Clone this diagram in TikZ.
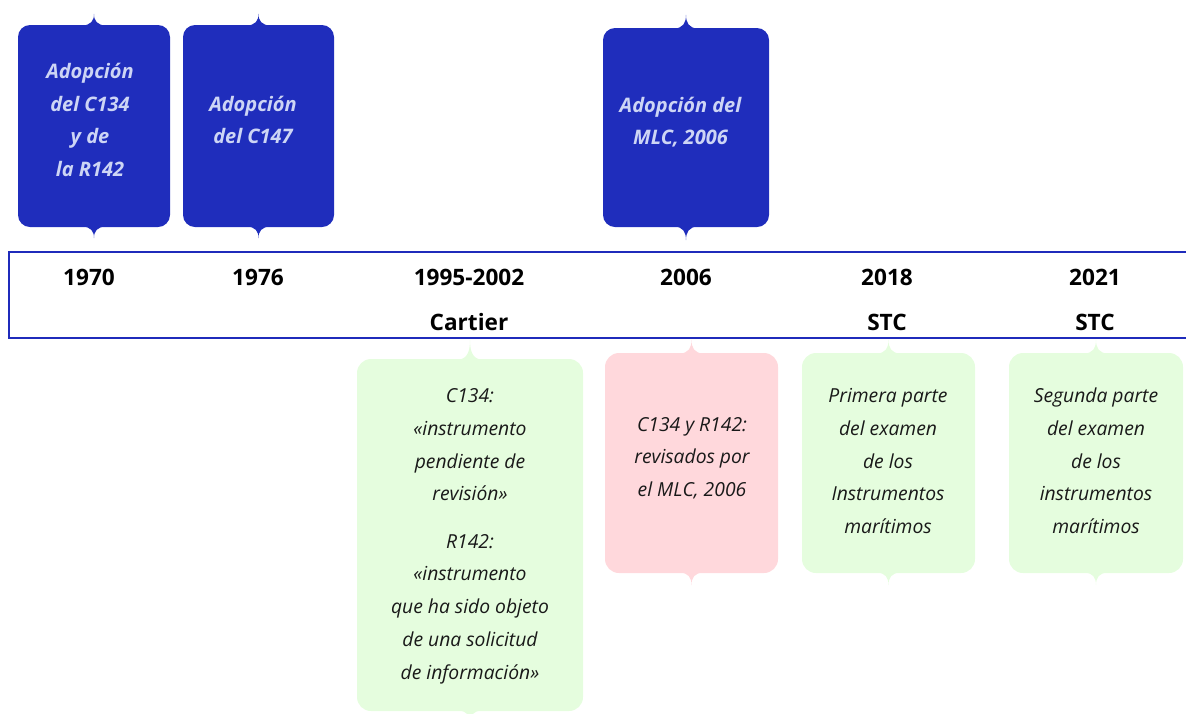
\documentclass[tikz,border=0pt]{standalone}
\usepackage{fontspec}
\setmainfont{Open Sans}
\usetikzlibrary{calc}
\definecolor{boxblue}{RGB}{31,45,188}
\definecolor{lineblue}{RGB}{31,43,187}
\definecolor{lav}{RGB}{205,213,245}
\definecolor{pgreen}{RGB}{229,253,222}
\definecolor{ppink}{RGB}{255,216,220}
\newcommand\tiptop[3]{\fill[#2] ($(#1.north)+(-12,1)$) .. controls ($(#1.north)+(-3,0)$) and ($(#1.north)+(0,-#3*0.35)$) .. ($(#1.north)+(0,-#3)$) .. controls ($(#1.north)+(0,-#3*0.35)$) and ($(#1.north)+(3,0)$) .. ($(#1.north)+(12,1)$) -- cycle;}
\newcommand\tipbot[3]{\fill[#2] ($(#1.south)+(-12,-1)$) .. controls ($(#1.south)+(-3,0)$) and ($(#1.south)+(0,#3*0.35)$) .. ($(#1.south)+(0,#3)$) .. controls ($(#1.south)+(0,#3*0.35)$) and ($(#1.south)+(3,0)$) .. ($(#1.south)+(12,-1)$) -- cycle;}
\tikzset{
  bluebox/.style={fill=boxblue, rounded corners=12pt, inner sep=0pt, draw=none},
  lowbox/.style={rounded corners=14pt, inner sep=0pt, draw=none},
  bluetext/.style={text=lav, font=\fontsize{20}{32.5}\selectfont\bfseries\itshape, align=center, inner sep=0pt},
  lowtext/.style={text=black!90, font=\fontsize{19.3}{32.7}\selectfont\itshape, align=center, inner sep=0pt},
  yeartext/.style={text=black, font=\fontsize{22.6}{24}\selectfont\bfseries, inner sep=0pt},
}
\begin{document}
\begin{tikzpicture}[x=1pt,y=-1pt]
\useasboundingbox (0,0) rectangle (1186,713);
% upper blue boxes
\node[bluebox, minimum width=152, minimum height=202] (b1970) at (94,126) {};
\node[bluebox, minimum width=151, minimum height=202] (b1976) at (258.5,126) {};
\node[bluebox, minimum width=166, minimum height=199] (b2006) at (686,127.5) {};
\tiptop{b1970}{boxblue}{11} \tipbot{b1970}{boxblue}{11}
\tiptop{b1976}{boxblue}{11} \tipbot{b1976}{boxblue}{11}
\tiptop{b2006}{boxblue}{13} \tipbot{b2006}{boxblue}{13}
\node[bluetext] (t1970) at (90,120) {Adopción\\del C134\\y de\\la R142};
\node[bluetext] (t1976) at (253,120) {Adopción\\del C147};
\node[bluetext] (t2006) at (680.5,122) {Adopción del\\MLC, 2006};
% band
\draw[lineblue, line width=2pt] (1190,252) -- (9,252) -- (9,338) -- (1190,338);
\coordinate (band) at (600,295);
% years
\node[yeartext] (y1970) at (89,277) {1970};
\node[yeartext] (y1976) at (258,277) {1976};
\node[yeartext] (y1995) at (469,277) {1995-2002};
\node[yeartext] (y2006) at (686,277) {2006};
\node[yeartext] (y2018) at (887,277) {2018};
\node[yeartext] (y2021) at (1095,277) {2021};
\node[yeartext] (l1995) at (469,322) {Cartier};
\node[yeartext] (l2018) at (887,322) {STC};
\node[yeartext] (l2021) at (1095,322) {STC};
% lower boxes
\node[lowbox, fill=pgreen, minimum width=226, minimum height=352] (c1995) at (470,535) {};
\node[lowbox, fill=ppink, minimum width=173, minimum height=220] (c2006) at (691.5,463) {};
\node[lowbox, fill=pgreen, minimum width=173, minimum height=220] (c2018) at (888.5,463) {};
\node[lowbox, fill=pgreen, minimum width=174, minimum height=220] (c2021) at (1096,463) {};
\tiptop{c1995}{pgreen}{19} \tipbot{c1995}{pgreen}{12}
\tiptop{c2006}{ppink}{13} \tipbot{c2006}{ppink}{12}
\tiptop{c2018}{pgreen}{13} \tipbot{c2018}{pgreen}{12}
\tiptop{c2021}{pgreen}{13} \tipbot{c2021}{pgreen}{12}
\node[lowtext] (t1995a) at (470,445) {C134:\\«instrumento\\pendiente de\\revisión»};
\node[lowtext] (t1995b) at (470,609) {R142:\\«instrumento\\que ha sido objeto\\de una solicitud\\de información»};
\node[lowtext] (tc2006) at (692,458) {C134 y R142:\\revisados por\\el MLC, 2006};
\node[lowtext] (tc2018) at (888,461) {Primera parte\\del examen\\de los\\Instrumentos\\marítimos};
\node[lowtext] (tc2021) at (1096,461) {Segunda parte\\del examen\\de los\\instrumentos\\marítimos};
\end{tikzpicture}
\end{document}
